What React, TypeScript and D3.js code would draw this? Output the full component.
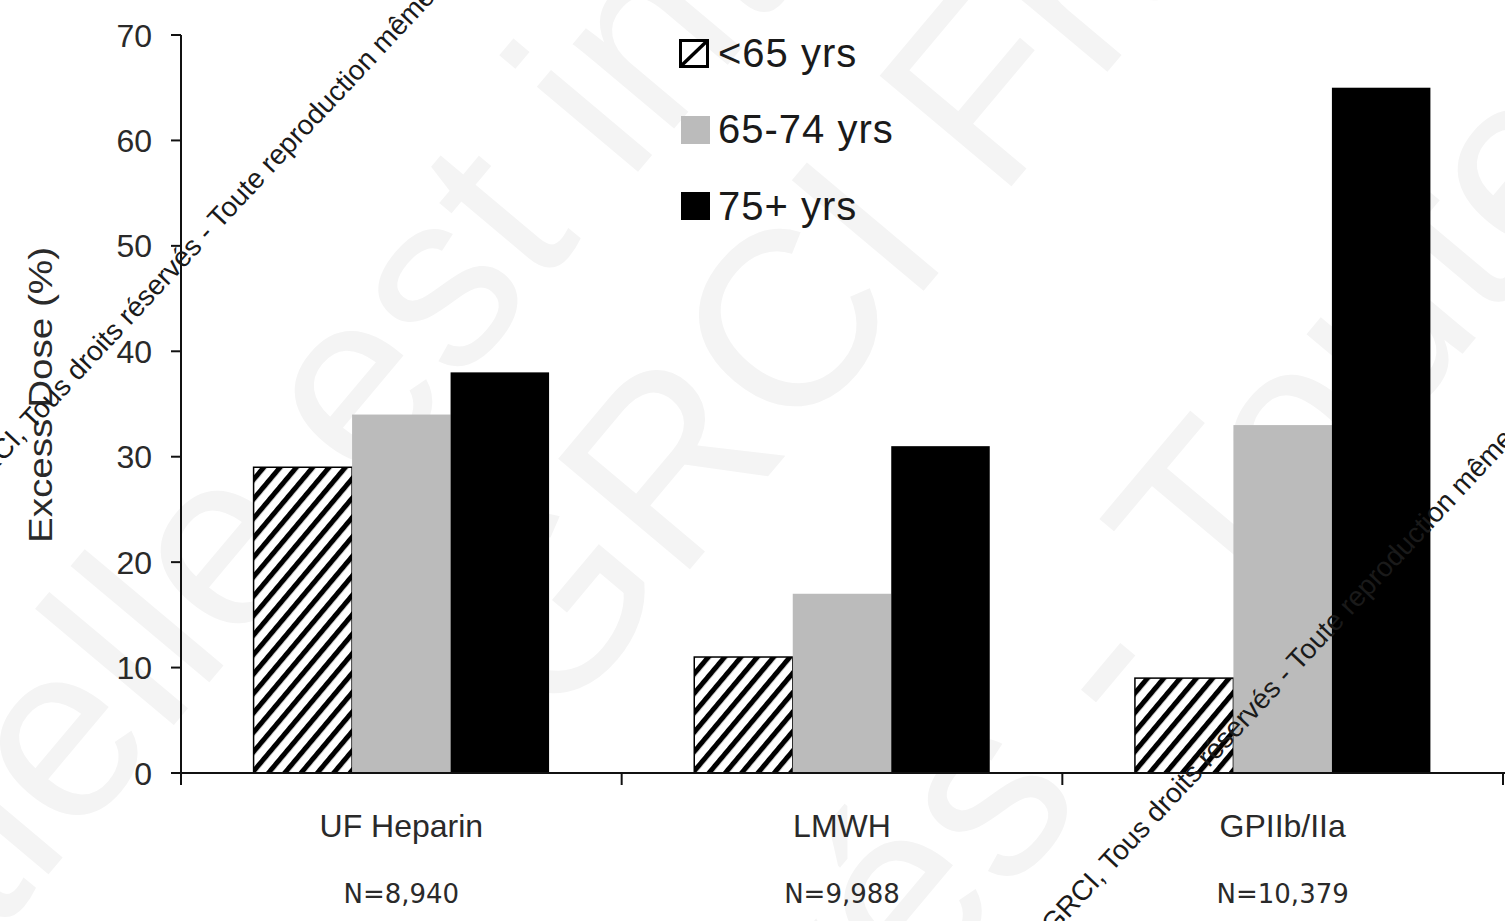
import React from "react";
import * as d3 from "d3";

// Excess dosing of antithrombotic therapy by age group
const categories = ["UF Heparin", "LMWH", "GPIIb/IIa"];
const sampleSizes = ["N=8,940", "N=9,988", "N=10,379"];
const ageGroups = ["<65 yrs", "65-74 yrs", "75+ yrs"];
const under65 = [29, 11, 9];
const age65to74 = [34, 17, 33];
const age75plus = [38, 31, 65];
const yTicks = [0, 10, 20, 30, 40, 50, 60, 70];

const seriesValues = [under65, age65to74, age75plus];
const seriesFill = ["url(#hatch)", "#bbbbbb", "#000000"];

const W = 1505;
const H = 921;
const left = 181;
const right = 1503;
const top = 35;
const bottom = 773;

const sans = "'Liberation Sans', Arial, sans-serif";
const wide = "'DejaVu Sans', Verdana, sans-serif";

const mark = "© GRCI, Tous droits réservés - Toute reproduction même partielle est interdite";

export default function App() {
  const x = d3.scaleBand<string>().domain(categories).range([left, right]).paddingInner(0).paddingOuter(0);
  const inner = d3
    .scaleBand<string>()
    .domain(ageGroups)
    .range([0, x.bandwidth()])
    .paddingInner(0)
    .paddingOuter(0.737);
  const y = d3.scaleLinear().domain([0, 70]).range([bottom, top]);

  const bars = categories.flatMap((cat, ci) =>
    ageGroups.map((g, gi) => ({
      key: `${cat}-${g}`,
      x: (x(cat) ?? 0) + (inner(g) ?? 0),
      w: inner.bandwidth(),
      value: seriesValues[gi][ci],
      fill: seriesFill[gi],
      gi,
    }))
  );

  const boundaries = [...categories.map((c) => x(c) ?? 0), right];

  return (
    <svg
      width={W}
      height={H}
      viewBox={`0 0 ${W} ${H}`}
      style={{ position: "absolute", left: 0, top: 0, display: "block", background: "#fff" }}
    >
      <defs>
        <pattern id="hatch" patternUnits="userSpaceOnUse" width={12.5} height={20} patternTransform="rotate(40)">
          <rect x={0} y={0} width={12.5} height={20} fill="#fff" />
          <rect x={0} y={0} width={5} height={20} fill="#000" />
        </pattern>
      </defs>

      {/* faint background watermark */}
      <g fill="#f4f4f4" fontFamily={sans} fontSize={250} textAnchor="middle">
        <text transform="translate(480,360) rotate(-50)">partielle est interdite</text>
        <text transform="translate(1025,170) rotate(-50)">GRCI France</text>
        <text transform="translate(1046,850) rotate(-50)">réservés - Toute</text>
      </g>

      {/* bars */}
      {bars.map((b) => (
        <rect
          key={b.key}
          x={b.x}
          y={y(b.value)}
          width={b.w}
          height={bottom - y(b.value)}
          fill={b.fill}
          stroke={b.gi === 0 ? "#000" : "none"}
          strokeWidth={b.gi === 0 ? 1.5 : 0}
        />
      ))}

      {/* y axis */}
      <line x1={left} x2={left} y1={top} y2={bottom + 12} stroke="#111" strokeWidth={2} />
      {yTicks.map((t) => (
        <g key={t}>
          <line x1={left - 10} x2={left} y1={y(t)} y2={y(t)} stroke="#111" strokeWidth={2} />
          <text
            x={152}
            y={y(t)}
            dy="0.36em"
            textAnchor="end"
            fontFamily={sans}
            fontSize={32}
            fill="#2a2a2a"
          >
            {t}
          </text>
        </g>
      ))}
      <text
        transform={`translate(52,395) rotate(-90)`}
        textAnchor="middle"
        fontFamily={sans}
        fontSize={33}
        fill="#2a2a2a"
        textLength={296}
        lengthAdjust="spacingAndGlyphs"
      >
        Excess Dose (%)
      </text>

      {/* x axis */}
      <line x1={left - 10} x2={W} y1={bottom} y2={bottom} stroke="#111" strokeWidth={2} />
      {boundaries.map((b, i) => (
        <line key={i} x1={b} x2={b} y1={bottom} y2={bottom + 12} stroke="#111" strokeWidth={2} />
      ))}
      {categories.map((c, i) => (
        <g key={c}>
          <text
            x={(x(c) ?? 0) + x.bandwidth() / 2}
            y={837}
            textAnchor="middle"
            fontFamily={sans}
            fontSize={32}
            fill="#2a2a2a"
          >
            {c}
          </text>
          <text
            x={(x(c) ?? 0) + x.bandwidth() / 2}
            y={903}
            textAnchor="middle"
            fontFamily={wide}
            fontSize={26}
            fill="#2a2a2a"
          >
            {sampleSizes[i]}
          </text>
        </g>
      ))}

      {/* legend */}
      <g>
        <rect x={680.5} y={40.5} width={27} height={26} fill="#fff" stroke="#000" strokeWidth={3} />
        <line x1={682} y1={65} x2={706} y2={42} stroke="#000" strokeWidth={3.5} />
        <rect x={681} y={116} width={29} height={28} fill="#bbbbbb" />
        <rect x={681} y={192} width={29} height={28} fill="#000" />
        {ageGroups.map((g, i) => (
          <text
            key={g}
            x={718}
            y={[67, 143, 220][i]}
            fontFamily={sans}
            fontSize={40}
            letterSpacing={1}
            fill="#1a1a1a"
          >
            {g}
          </text>
        ))}
      </g>

      {/* copyright overlay */}
      <g fill="#1a1a1a" fontFamily={sans} fontSize={28}>
        <text transform="translate(-45,514) rotate(-47)">{mark}</text>
        <text transform="translate(1034,956) rotate(-47)">{mark}</text>
      </g>
    </svg>
  );
}
